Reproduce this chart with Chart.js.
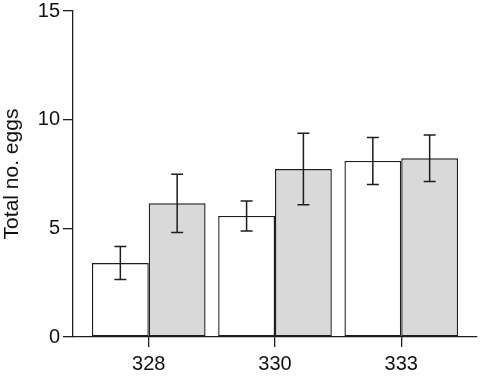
<!DOCTYPE html>
<html>
<head>
<meta charset="utf-8">
<script src="https://cdn.jsdelivr.net/npm/chart.js@4"></script>
<style>
html,body{margin:0;padding:0;background:#fff;}
#wrap{width:480px;height:376px;position:relative;}
</style>
</head>
<body>
<div id="wrap"><canvas id="c" width="480" height="376"></canvas></div>
<script>
const categories = ["328", "330", "333"];
const whiteValues = [3.40, 5.57, 8.10];
const whiteErrors = [0.76, 0.69, 1.08];
const greyValues = [6.15, 7.73, 8.22];
const greyErrors = [1.34, 1.64, 1.07];
const yTicks = [0, 5, 10, 15];

const INK = '#1e1e1e';

function toPoints(vals) {
  return vals.map((v, i) => ({ x: i, y: v }));
}

const errorBars = {
  id: 'errorBars',
  afterDatasetsDraw(chart) {
    const ctx = chart.ctx;
    const ys = chart.scales.y;
    ctx.save();
    ctx.strokeStyle = INK;
    ctx.lineWidth = 1.5;
    chart.data.datasets.forEach((ds, di) => {
      const meta = chart.getDatasetMeta(di);
      meta.data.forEach((el, i) => {
        const v = ds.data[i].y, e = ds.errors[i];
        const x = el.x;
        const yt = ys.getPixelForValue(v + e);
        const yb = ys.getPixelForValue(v - e);
        ctx.beginPath();
        ctx.moveTo(x, yt); ctx.lineTo(x, yb);
        ctx.moveTo(x - 6, yt); ctx.lineTo(x + 6, yt);
        ctx.moveTo(x - 6, yb); ctx.lineTo(x + 6, yb);
        ctx.stroke();
      });
    });
    ctx.restore();
  }
};

new Chart(document.getElementById('c'), {
  type: 'bar',
  data: {
    datasets: [
      { data: toPoints(whiteValues), errors: whiteErrors, backgroundColor: '#ffffff', borderColor: INK, borderWidth: 1.4, borderSkipped: false },
      { data: toPoints(greyValues), errors: greyErrors, backgroundColor: '#d9d9d9', borderColor: INK, borderWidth: 1.4, borderSkipped: false }
    ]
  },
  options: {
    responsive: false,
    animation: false,
    categoryPercentage: 0.9,
    barPercentage: 1.0,
    layout: { padding: { top: 11, right: 3, left: 0, bottom: 0 } },
    plugins: { legend: { display: false }, tooltip: { enabled: false } },
    scales: {
      x: {
        type: 'linear',
        offset: false,
        min: -0.6,
        max: 2.6,
        afterBuildTicks(scale) { scale.ticks = categories.map((c, i) => ({ value: i })); },
        afterFit(scale) { scale.height = 39; scale.paddingLeft = 0; scale.paddingRight = 0; },
        ticks: {
          autoSkip: false,
          callback: (v) => categories[v],
          color: '#111',
          font: { family: 'Liberation Sans, Arial, sans-serif', size: 20 },
          padding: 5,
          maxRotation: 0
        },
        grid: { display: true, offset: false, drawOnChartArea: false, drawTicks: true, tickLength: 10, color: INK, lineWidth: 1.3 },
        border: { display: true, color: INK, width: 1.3 }
      },
      y: {
        min: 0,
        max: 15,
        afterBuildTicks(scale) { scale.ticks = yTicks.map(v => ({ value: v })); },
        afterFit(scale) { scale.width = 73; scale.paddingTop = 0; scale.paddingBottom = 0; },
        ticks: {
          color: '#111',
          font: { family: 'Liberation Sans, Arial, sans-serif', size: 20 },
          padding: 3
        },
        title: {
          display: true,
          text: 'Total no. eggs',
          color: '#111',
          font: { family: 'Liberation Sans, Arial, sans-serif', size: 21 },
          padding: { top: 0, bottom: 0 }
        },
        grid: { display: true, drawOnChartArea: false, drawTicks: true, tickLength: 10, color: INK, lineWidth: 1.3 },
        border: { display: true, color: INK, width: 1.3 }
      }
    }
  },
  plugins: [errorBars]
});
</script>
</body>
</html>
